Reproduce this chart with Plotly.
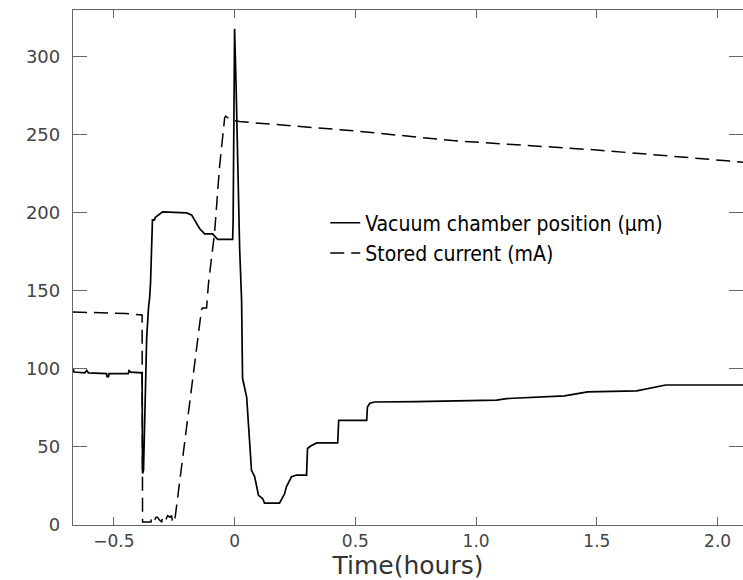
import plotly.graph_objects as go

# Vacuum chamber position (um) vs time (hours)
pos_t = [-0.669, -0.665, -0.62, -0.612, -0.605, -0.53, -0.528, -0.522, -0.52, -0.44, -0.437, -0.43,
         -0.383, -0.381, -0.377, -0.373, -0.369, -0.364, -0.356, -0.352, -0.348, -0.344, -0.34, -0.331,
         -0.329, -0.298, -0.199, -0.178, -0.157, -0.145, -0.124, -0.091, -0.07, -0.008, -0.006, -0.004,
         0.0, 0.006, 0.012, 0.021, 0.029, 0.031, 0.033, 0.05, 0.054, 0.07, 0.083, 0.091, 0.099, 0.116,
         0.124, 0.186, 0.195, 0.207, 0.215, 0.228, 0.236, 0.257, 0.298, 0.302, 0.315, 0.34, 0.427,
         0.431, 0.547, 0.55, 0.56, 0.58, 0.754, 1.085, 1.126, 1.366, 1.437, 1.462, 1.665, 1.785, 2.105]
pos_v = [100.6, 98, 97.5, 99, 97.5, 97, 95, 95, 97, 97, 99, 98,
         97.5, 33, 35, 67, 93, 120, 140, 145, 155, 174, 195.5, 195.5,
         197, 200.6, 200, 198.7, 193.6, 190, 186.5, 186.5, 183, 183, 195, 245,
         318, 283, 232, 177, 144, 128, 94, 82, 72, 35, 31, 24.6, 19, 17,
         14, 14, 17, 20, 24.6, 29, 31, 32, 32, 49, 50.6, 52.6, 52.6,
         67, 67, 75.6, 78, 78.8, 79, 80, 81, 82.7, 84.6, 85.3, 86, 89.7, 89.7]

# Stored current (mA) vs time (hours)
cur_t = [-0.669, -0.55, -0.45, -0.383, -0.381, -0.352, -0.346, -0.344, -0.338, -0.331, -0.325, -0.319,
         -0.31, -0.302, -0.298, -0.292, -0.286, -0.277, -0.268, -0.261, -0.257, -0.248, -0.246,
         -0.137, -0.133, -0.116, -0.108, -0.083, -0.062, -0.041, -0.037, -0.02, 0.0, 0.021,
         0.5, 0.903, 1.5, 2.105]
cur_v = [136.5, 136, 135.5, 134.6, 2, 2, 2, 5, 4, 3, 5, 5,
         3, 2, 5, 4, 3, 6, 5, 6, 2, 2, 5,
         138, 139, 139, 155, 187, 230, 261, 262, 260, 259, 258.5,
         252.5, 246.3, 240.3, 232.5]

x_ticks = [-0.5, 0, 0.5, 1.0, 1.5, 2.0]
x_tick_text = ["\u22120.5", "0", "0.5", "1.0", "1.5", "2.0"]
y_ticks = [0, 50, 100, 150, 200, 250, 300]
y_tick_text = ["0", "50", "100", "150", "200", "250", "300"]

fig = go.Figure()
fig.add_trace(go.Scatter(x=pos_t, y=pos_v, mode="lines", name="Vacuum chamber position (\u03bcm)",
                         line=dict(color="black", width=1.7)))
fig.add_trace(go.Scatter(x=cur_t, y=cur_v, mode="lines", name="Stored current (mA)",
                         line=dict(color="black", width=1.5, dash="14px,7px")))

axis_col = "#666666"
tick_font = dict(family="DejaVu Sans", size=18, color="#444444")
xtick_font = dict(family="DejaVu Sans", size=17, color="#444444")

fig.update_layout(
    width=743, height=580,
    margin=dict(l=73, r=0, t=10, b=55),
    paper_bgcolor="white", plot_bgcolor="white",
    showlegend=True,
    legend=dict(x=0.3765, y=0.626, xanchor="left", yanchor="top",
                bgcolor="rgba(0,0,0,0)", borderwidth=0,
                font=dict(family="Liberation Sans Narrow, DejaVu Sans Condensed, Liberation Sans, sans-serif",
                          size=21, color="black")),
    xaxis=dict(range=[-0.669, 2.105], tickvals=x_ticks, ticktext=x_tick_text,
               ticks="inside", ticklen=8, tickwidth=1.3, tickcolor=axis_col,
               showline=True, linecolor=axis_col, linewidth=1.3, mirror="ticks",
               showgrid=False, zeroline=False, tickfont=xtick_font, ticklabelstandoff=0,
               title=dict(text="Time(hours)", font=dict(family="DejaVu Sans", size=25, color="#333333"),
                          standoff=7)),
    yaxis=dict(range=[0, 330], tickvals=y_ticks, ticktext=y_tick_text,
               ticks="inside", ticklen=14, tickwidth=1.3, tickcolor=axis_col,
               showline=True, linecolor=axis_col, linewidth=1.3, mirror="ticks",
               showgrid=False, zeroline=False, tickfont=tick_font, ticklabelstandoff=8),
)

fig.write_html("out.html")
